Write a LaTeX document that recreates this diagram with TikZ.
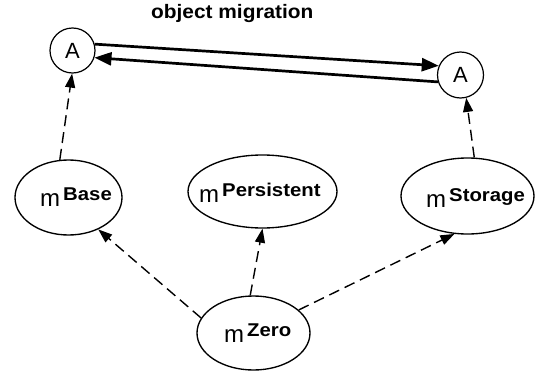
\documentclass[tikz,border=0pt]{standalone}
\usepackage{fontspec}
\setmainfont{Liberation Sans}
\usetikzlibrary{arrows.meta,shapes.geometric}
\newcommand{\mlab}[1]{{\fontsize{24}{24}\selectfont m}\hspace{3pt}\raisebox{6pt}{\scalebox{1.1}[1]{\bfseries\fontsize{18.5}{18.5}\selectfont #1}}}
\tikzset{
  ell/.style={draw, ellipse, line width=1.35pt, inner sep=0pt},
  circ/.style={draw, circle, line width=1.2pt, inner sep=0pt, minimum size=45pt, font=\fontsize{22}{22}\selectfont},
  lab/.style={anchor=base west, inner sep=0pt},
  mig/.style={line width=2.7pt, -{Triangle[length=17pt, width=13pt]}},
  dep/.style={line width=1.4pt, dash pattern=on 11pt off 6pt, -{Triangle[length=14pt, width=10pt]}}
}
\begin{document}
\begin{tikzpicture}[x=1pt, y=-1pt]
\useasboundingbox (0,0) rectangle (536,372);
% title
\node[lab] (title) at (151,18) {\scalebox{1.07}[1]{\bfseries\fontsize{19.5}{19.5}\selectfont object migration}};
% circles
\node[circ] (L) at (72.5,50.5) {A};
\node[circ, minimum size=46pt] (R) at (460.5,75) {A};
% ellipses
\node[ell, minimum width=107pt, minimum height=75pt] (B) at (68.5,197.5) {};
\node[ell, minimum width=149pt, minimum height=73pt] (P) at (262.5,191.5) {};
\node[ell, minimum width=133pt, minimum height=76pt] (S) at (467.5,196) {};
\node[ell, minimum width=113pt, minimum height=74pt] (Z) at (253.5,333) {};
% labels
\node[lab] (lB) at (40,206) {\mlab{Base}};
\node[lab] (lP) at (199,202) {\mlab{Persistent}};
\node[lab] (lS) at (426,207) {\mlab{Storage}};
\node[lab] (lZ) at (224,342) {\mlab{Zero}};
% migration arrows
\draw[mig] (L.16) -- (R.157);
\draw[mig] (R.197) -- (L.-18);
% dependency arrows
\draw[dep] (B.103) -- (L.-91);
\draw[dep] (S.80) -- (R.-76);
\draw[dep] (Z.164) -- (B.-47);
\draw[dep] (Z.95) -- (P.south);
\draw[dep] (Z.27) -- (S.-109);
\end{tikzpicture}
\end{document}
